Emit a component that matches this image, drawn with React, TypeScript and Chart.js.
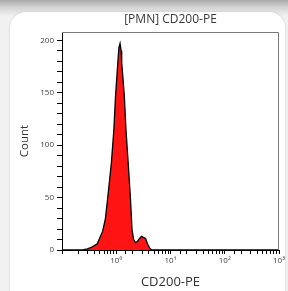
import React, { useEffect, useRef } from "react";
import { Chart, registerables } from "chart.js";

Chart.register(...registerables);

const titleText = "[PMN] CD200-PE";
const xTitle = "CD200-PE";
const yTitle = "Count";
const xValues = [0.1, 0.24, 0.295, 0.363, 0.447, 0.562, 0.631, 0.70, 0.813, 0.904, 0.97, 1.07, 1.12, 1.175, 1.23, 1.26, 1.41, 1.51, 1.66, 1.82, 1.95, 2.09, 2.26, 2.45, 2.69, 2.92, 3.16, 3.47, 3.76, 4.22, 4.68, 1000];
const counts = [0, 0, 1, 3, 6, 18, 30, 51, 83, 115, 147, 179, 193, 197, 190, 179, 147, 115, 83, 51, 20, 10, 7, 8, 11, 13, 12, 11, 6, 1, 0, 0];
const xTickLabels: Record<string, string> = { "1": "10\u2070", "10": "10\u00b9", "100": "10\u00b2", "1000": "10\u00b3" };
const yMinorTicks = [0, 10, 20, 30, 40, 50, 60, 70, 80, 90, 100, 110, 120, 130, 140, 150, 160, 170, 180, 190, 200];
const yLabelTicks = [0, 50, 100, 150, 200];

const frame = {
  id: "frame",
  afterDraw(chart: any) {
    const { ctx, chartArea: a } = chart;
    ctx.save();
    ctx.strokeStyle = "#7a7a7a";
    ctx.lineWidth = 1;
    ctx.beginPath();
    ctx.moveTo(a.left, a.top + 0.5);
    ctx.lineTo(a.right - 0.5, a.top + 0.5);
    ctx.lineTo(a.right - 0.5, a.bottom);
    ctx.stroke();
    ctx.fillStyle = "#3a3a3a";
    ctx.font = "12px 'Open Sans'";
    ctx.textAlign = "center";
    ctx.textBaseline = "middle";
    ctx.fillText(titleText, (a.left + a.right) / 2, 20);
    ctx.restore();
  },
};

export default function App() {
  const ref = useRef<HTMLCanvasElement>(null);
  useEffect(() => {
    const chart = new Chart(ref.current!, {
      type: "line",
      data: {
        datasets: [
          {
            data: xValues.map((x, i) => ({ x, y: counts[i] })),
            borderColor: "#000",
            borderWidth: 1.3,
            backgroundColor: "#ff1414",
            fill: "origin",
            pointRadius: 0,
            tension: 0,
          },
        ],
      },
      options: {
        animation: false,
        responsive: false,
        maintainAspectRatio: false,
        layout: { padding: { left: 0, right: 9, top: 32, bottom: 0 } },
        plugins: { legend: { display: false }, tooltip: { enabled: false } },
        scales: {
          x: {
            type: "logarithmic",
            min: 0.1,
            max: 1000,
            afterFit: (s: any) => { s.height = 41; },
            border: { color: "#000", width: 1 },
            grid: { drawOnChartArea: false, tickLength: 4, color: "#000" },
            ticks: {
              autoSkip: false,
              maxRotation: 0,
              padding: 2,
              color: "#444",
              font: { size: 8, family: "'Open Sans'" },
              callback: (v: any) => xTickLabels[String(v)] ?? "",
            },
            title: { display: true, text: xTitle, color: "#333", font: { size: 13, family: "'Open Sans'" }, padding: { top: 0, bottom: 1 } },
          },
          y: {
            min: 0,
            max: 208,
            afterBuildTicks: (s: any) => { s.ticks = yMinorTicks.map((value) => ({ value })); },
            afterFit: (s: any) => { s.width = 62; },
            border: { color: "#000", width: 1 },
            grid: { drawOnChartArea: false, tickLength: 5, color: "#000" },
            ticks: {
              autoSkip: false,
              padding: 3,
              color: "#444",
              font: { size: 8, family: "'Open Sans'" },
              callback: (v: any) => (yLabelTicks.includes(v) ? String(v) : ""),
            },
            title: { display: true, text: yTitle, color: "#333", font: { size: 11.5, family: "'Open Sans'" }, padding: { top: 18, bottom: 0 } },
          },
        },
      },
      plugins: [frame],
    });
    return () => chart.destroy();
  }, []);

  return (
    <div style={{ position: "fixed", left: 0, top: 0, width: 288, height: 291, overflow: "hidden", background: "#f1f1f1" }}>
      <div style={{ position: "absolute", left: 0, top: 0, width: 288, height: 16, background: "linear-gradient(to bottom, #a9a9a9 0%, #d6d6d6 50%, #f1f1f1 100%)" }} />
      <div style={{ position: "absolute", left: 10, top: 12, width: 275, height: 300, background: "#fff", borderRadius: 16, boxShadow: "0 0 3px rgba(0,0,0,0.12)" }} />
      <canvas ref={ref} width={288} height={291} style={{ position: "absolute", left: 0, top: 0, width: 288, height: 291 }} />
    </div>
  );
}
